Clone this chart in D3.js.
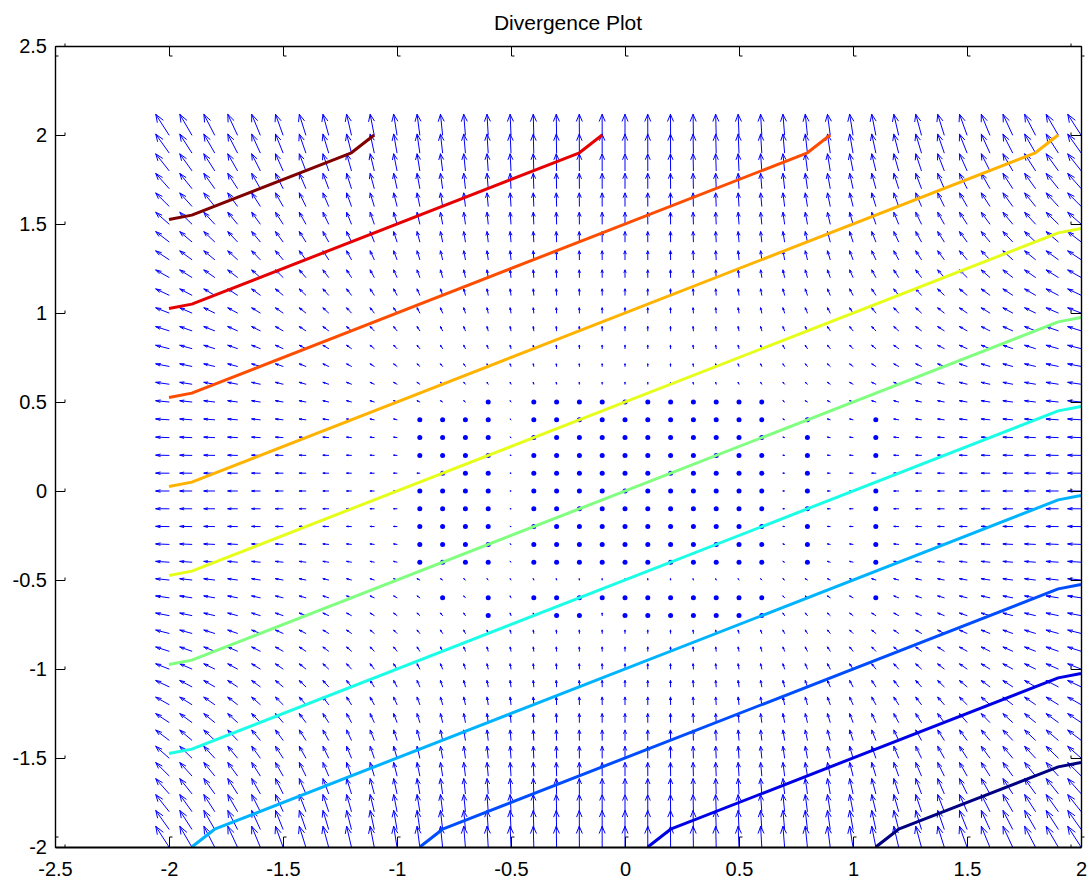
<!DOCTYPE html>
<html>
<head>
<meta charset="utf-8">
<script src="https://cdn.jsdelivr.net/npm/d3@7"></script>
<style>
body { margin: 0; background: #fff; }
svg text { font-family: "Liberation Sans", Arial, Helvetica, sans-serif; }
</style>
</head>
<body>
<script>
const w = 1090;
const h = 880;

const title = "Divergence Plot";

// quiver grid, same positions on both axes
const gridPts = [-2, -1.9, -1.8, -1.7, -1.6, -1.5, -1.4, -1.3, -1.2, -1.1, -1, -0.9, -0.8, -0.7, -0.6, -0.5, -0.4, -0.3, -0.2, -0.1, 0,
                 0.1, 0.2, 0.3, 0.4, 0.5, 0.6, 0.7, 0.8, 0.9, 1, 1.1, 1.2, 1.3, 1.4, 1.5, 1.6, 1.7, 1.8, 1.9, 2];

// horizontal component per column, vertical component per row
const uByCol = [-2.00, -1.81, -1.62, -1.45, -1.28, -1.13, -0.98, -0.85, -0.72, -0.61, -0.50, -0.41, -0.32, -0.25, -0.18, -0.13, -0.08, -0.05, -0.02, -0.01, 0.00,
                -0.01, -0.02, -0.05, -0.08, -0.13, -0.18, -0.25, -0.32, -0.41, -0.50, -0.61, -0.72, -0.85, -0.98, -1.13, -1.28, -1.45, -1.62, -1.81, -2.00];
const vByRow = [4.00, 3.61, 3.24, 2.89, 2.56, 2.25, 1.96, 1.69, 1.44, 1.21, 1.00, 0.81, 0.64, 0.49, 0.36, 0.25, 0.16, 0.09, 0.04, 0.01, 0.00,
                0.01, 0.04, 0.09, 0.16, 0.25, 0.36, 0.49, 0.64, 0.81, 1.00, 1.21, 1.44, 1.69, 1.96, 2.25, 2.56, 2.89, 3.24, 3.61, 4.00];
const arrowScale = 0.029;

// cells in the middle that show up as dots instead of arrows
const dotCols = [-0.9, -0.8, -0.7, -0.6, -0.5, -0.4, -0.3, -0.2, -0.1, 0, 0.1, 0.2, 0.3, 0.4, 0.5, 0.6, 0.7, 0.8, 0.9, 1, 1.1];
const dotRows = [0.5, 0.4, 0.3, 0.2, 0.1, 0, -0.1, -0.2, -0.3, -0.4, -0.5, -0.6, -0.7];
const dotMask = [
  "...o.ooooooooooo.....",
  "oooo.ooooooooooo.o..o",
  "oooo.ooooooooooo.o..o",
  "oooo.ooooooooooo.o..o",
  ".ooo.ooooooooooo.o...",
  "oooo.ooooooooooo.o..o",
  "oooo.ooooooooooo.o..o",
  "oooo.ooooooooooo.o..o",
  "oooo.ooooooooooo.o..o",
  "oooo.ooooooooooo.o..o",
  ".....................",
  ".o.o.ooooooooooo....o",
  "...o..oo.ooooooo....."
];

// contour levels with their vertices
const levels = [5, 4, 3, 2, 1, 0, -1, -2, -3, -4, -5];
const levelColors = ["#800000", "#e60000", "#ff4d00", "#ffb300", "#e6ff1a", "#80ff80", "#1affe6", "#00b3ff", "#004dff", "#0000e6", "#000080"];
const contourPts = [
  [[-2, 1.525], [-1.9, 1.55], [-1.2, 1.9], [-1.1, 2.0]],
  [[-2, 1.025], [-1.9, 1.05], [-0.2, 1.9], [-0.1, 2.0]],
  [[-2, 0.525], [-1.9, 0.55], [0.8, 1.9], [0.9, 2.0]],
  [[-2, 0.025], [-1.9, 0.05], [1.8, 1.9], [1.9, 2.0]],
  [[-2, -0.475], [-1.9, -0.45], [1.9, 1.45], [2, 1.475]],
  [[-2, -0.975], [-1.9, -0.95], [1.9, 0.95], [2, 0.975]],
  [[-2, -1.475], [-1.9, -1.45], [1.9, 0.45], [2, 0.475]],
  [[-1.9, -2], [-1.8, -1.9], [1.9, -0.05], [2, -0.025]],
  [[-0.9, -2], [-0.8, -1.9], [1.9, -0.55], [2, -0.525]],
  [[0.1, -2], [0.2, -1.9], [1.9, -1.05], [2, -1.025]],
  [[1.1, -2], [1.2, -1.9], [1.9, -1.55], [2, -1.525]]
];

const xTicks = [-2.5, -2, -1.5, -1, -0.5, 0, 0.5, 1, 1.5, 2];
const yTicks = [-2, -1.5, -1, -0.5, 0, 0.5, 1, 1.5, 2, 2.5];

const padL = 55, padR = 1081, padT = 46, padB = 847;

const svg = d3.select('body').append('svg')
    .attr('width', w)
    .attr('height', h);

svg.append('rect').attr('width', w).attr('height', h).attr('fill', '#fff');

const xScale = d3.scaleLinear().domain([-2.5, 2]).range([padL, padR]);
const yScale = d3.scaleLinear().domain([-2, 2.5]).range([padB, padT]);

const key = (x, y) => x.toFixed(1) + ',' + y.toFixed(1);

let dotCells = [];
dotMask.forEach((row, r) => {
  row.split('').forEach((ch, c) => {
    if (ch === 'o') dotCells.push([dotCols[c], dotRows[r]]);
  });
});
const dotSet = new Set(dotCells.map(d => key(d[0], d[1])));

// arrows, matlab style heads (alpha/beta = 0.33) in data units
const alpha = 0.33, beta = 0.33;
let arrows = [];
gridPts.forEach((x, i) => {
  gridPts.forEach((y, j) => {
    if (dotSet.has(key(x, y))) return;
    arrows.push({x: x, y: y, u: uByCol[i] * arrowScale, v: vByRow[j] * arrowScale});
  });
});

function arrowPath(d) {
  const tx = d.x + d.u, ty = d.y + d.v;
  const e = 1e-9;
  const h1x = tx - alpha * (d.u + beta * (d.v + e));
  const h1y = ty - alpha * (d.v - beta * (d.u + e));
  const h2x = tx - alpha * (d.u - beta * (d.v + e));
  const h2y = ty - alpha * (d.v + beta * (d.u + e));
  return 'M' + xScale(d.x) + ',' + yScale(d.y) + 'L' + xScale(tx) + ',' + yScale(ty) +
         'M' + xScale(h1x) + ',' + yScale(h1y) + 'L' + xScale(tx) + ',' + yScale(ty) +
         'L' + xScale(h2x) + ',' + yScale(h2y);
}

svg.append('g')
  .selectAll('path')
  .data(arrows)
  .enter()
  .append('path')
  .attr('d', arrowPath)
  .attr('fill', 'none')
  .attr('stroke', '#0000ff')
  .attr('stroke-width', 1)
  .attr('stroke-linecap', 'round');

svg.append('g')
  .selectAll('circle')
  .data(dotCells)
  .enter()
  .append('circle')
  .attr('cx', d => xScale(d[0]))
  .attr('cy', d => yScale(d[1]))
  .attr('r', 2.5)
  .attr('fill', '#0000ff');

const line = d3.line()
  .x(d => xScale(d[0]))
  .y(d => yScale(d[1]));

svg.append('g')
  .selectAll('path')
  .data(contourPts)
  .enter()
  .append('path')
  .attr('d', line)
  .attr('fill', 'none')
  .attr('stroke', (d, i) => levelColors[i])
  .attr('stroke-width', 3)
  .attr('stroke-linejoin', 'round');

// axes, inward ticks
const xAxis = d3.axisBottom(xScale).tickValues(xTicks).tickSizeInner(-10).tickSizeOuter(0).tickPadding(15)
  .tickFormat(d3.format('~g'));
const xAxisTop = d3.axisTop(xScale).tickValues(xTicks).tickSizeInner(-10).tickSizeOuter(0).tickFormat('');
const yAxis = d3.axisLeft(yScale).tickValues(yTicks).tickSizeInner(-10).tickSizeOuter(0).tickPadding(8)
  .tickFormat(d3.format('~g'));
const yAxisRight = d3.axisRight(yScale).tickValues(yTicks).tickSizeInner(-10).tickSizeOuter(0).tickFormat('');

const gx = svg.append('g').attr('transform', 'translate(0,' + padB + ')').call(xAxis);
const gxt = svg.append('g').attr('transform', 'translate(0,' + padT + ')').call(xAxisTop);
const gy = svg.append('g').attr('transform', 'translate(' + padL + ',0)').call(yAxis);
const gyr = svg.append('g').attr('transform', 'translate(' + padR + ',0)').call(yAxisRight);

[gx, gxt, gy, gyr].forEach(g => {
  g.selectAll('text')
    .attr('font-size', 20)
    .attr('fill', '#000')
    .text(function() { return this.textContent.replace('\u2212', '-'); });
  g.selectAll('.tick line').attr('stroke', '#000');
  g.select('.domain').attr('stroke', '#000').attr('stroke-width', 1.4);
});
gx.select('.domain').attr('stroke-width', 2);

// little hooks at the inner end of the ticks
gx.selectAll('.tick').append('line').attr('x1', 0).attr('x2', 3).attr('y1', -10).attr('y2', -10).attr('stroke', '#000');
gxt.selectAll('.tick').append('line').attr('x1', 0).attr('x2', 3).attr('y1', 10).attr('y2', 10).attr('stroke', '#000');
gy.selectAll('.tick').append('line').attr('x1', 10).attr('x2', 10).attr('y1', 0).attr('y2', -3).attr('stroke', '#000');
gyr.selectAll('.tick').append('line').attr('x1', -10).attr('x2', -10).attr('y1', 0).attr('y2', -3).attr('stroke', '#000');

svg.append('text')
  .attr('x', (padL + padR) / 2)
  .attr('y', 30)
  .attr('text-anchor', 'middle')
  .attr('font-size', 21)
  .attr('fill', '#000')
  .text(title);
</script>
</body>
</html>
